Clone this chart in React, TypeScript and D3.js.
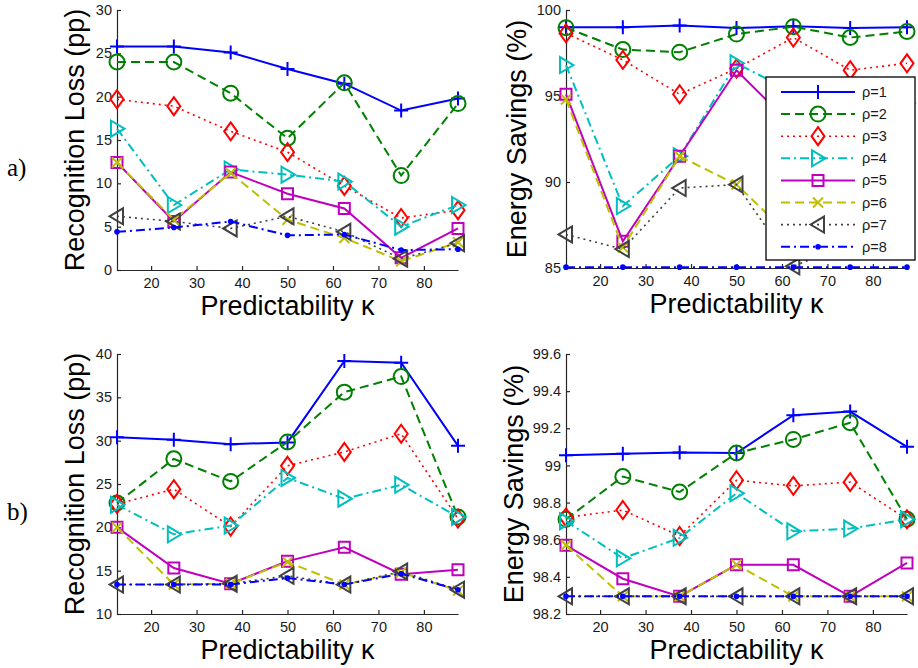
import { useRef, useEffect } from 'react'
import * as d3 from 'd3'

const kappa = [12.5, 25, 37.5, 50, 62.5, 75, 87.5]
const rhoLabels = ['ρ=1', 'ρ=2', 'ρ=3', 'ρ=4', 'ρ=5', 'ρ=6', 'ρ=7', 'ρ=8']
const xTicks = [20, 30, 40, 50, 60, 70, 80]

// a) recognition loss (pp), one row per rho
const lossA = [
  [25.8, 25.8, 25.1, 23.2, 21.5, 18.4, 19.8],
  [24.0, 24.0, 20.4, 15.2, 21.6, 10.9, 19.2],
  [19.7, 18.9, 16.0, 13.6, 9.7, 6.0, 6.9],
  [16.3, 7.5, 11.6, 11.0, 10.2, 5.0, 7.5],
  [12.4, 5.6, 11.3, 8.8, 7.1, 1.4, 4.8],
  [12.4, 5.8, 11.2, 5.8, 3.7, 1.0, 3.2],
  [6.2, 5.6, 4.8, 6.2, 4.4, 1.3, 3.1],
  [4.4, 4.9, 5.6, 4.0, 4.1, 2.3, 2.4],
]

// a) energy savings (%)
const energyA = [
  [99.0, 99.0, 99.1, 98.95, 99.05, 98.95, 99.0],
  [98.97, 97.7, 97.55, 98.6, 99.03, 98.4, 98.75],
  [98.65, 97.1, 95.1, 96.6, 98.4, 96.5, 96.9],
  [96.8, 88.6, 91.5, 96.9, 95.2, 95.0, 94.6],
  [95.1, 86.55, 91.5, 96.5, 93.2, 93.8, 94.2],
  [94.8, 86.2, 91.5, 89.85, 86.7, 86.3, 86.5],
  [86.95, 86.1, 89.65, 89.85, 85.1, 86.4, 86.8],
  [85.05, 85.05, 85.05, 85.05, 85.05, 85.05, 85.05],
]

// b) recognition loss (pp)
const lossB = [
  [30.4, 30.1, 29.6, 29.8, 39.2, 39.0, 29.4],
  [22.8, 27.9, 25.3, 29.85, 35.6, 37.4, 21.2],
  [22.7, 24.4, 20.1, 27.1, 28.7, 30.8, 21.0],
  [22.6, 19.2, 20.2, 25.7, 23.3, 24.9, 21.2],
  [20.0, 15.3, 13.5, 16.1, 17.7, 14.6, 15.1],
  [20.0, 13.4, 13.5, 16.0, 13.4, 14.8, 12.7],
  [13.4, 13.4, 13.5, 14.4, 13.4, 14.9, 12.8],
  [13.4, 13.4, 13.4, 14.15, 13.4, 14.65, 12.8],
]

// b) energy savings (%)
const energyB = [
  [99.055, 99.063, 99.07, 99.067, 99.27, 99.29, 99.1],
  [98.71, 98.94, 98.857, 99.067, 99.14, 99.23, 98.71],
  [98.72, 98.76, 98.62, 98.92, 98.89, 98.91, 98.71],
  [98.7, 98.5, 98.61, 98.85, 98.645, 98.66, 98.71],
  [98.57, 98.39, 98.295, 98.465, 98.465, 98.295, 98.475],
  [98.57, 98.295, 98.295, 98.465, 98.295, 98.295, 98.295],
  [98.295, 98.295, 98.295, 98.295, 98.295, 98.295, 98.295],
  [98.295, 98.295, 98.295, 98.295, 98.295, 98.295, 98.295],
]

const colors = ['#0000ff', '#008000', '#ff0000', '#00bfbf', '#bf00bf', '#bfbf00', '#404040', '#0000ff']
const dashes = ['none', '9,5', '2,4', '9,4,2,4', 'none', '9,5', '2,4', '9,4,2,4']
const markers = ['plus', 'circle', 'diamond', 'right', 'square', 'x', 'left', 'dot']

const sans = '"Liberation Sans", Arial, Helvetica, sans-serif'

function drawMarker(g: any, kind: string, color: string) {
  if (kind === 'circle') {
    g.append('circle').attr('r', 7.5).attr('fill', 'none').attr('stroke', color).attr('stroke-width', 2)
  } else if (kind === 'dot') {
    g.append('circle').attr('r', 2.8).attr('fill', color)
  } else {
    const paths: any = {
      plus: 'M-7,0H7M0,-7V7',
      diamond: 'M0,-9L6.5,0L0,9L-6.5,0Z',
      right: 'M7.5,0L-6,-8L-6,8Z',
      left: 'M-7.5,0L6,-8L6,8Z',
      square: 'M-5.5,-5.5H5.5V5.5H-5.5Z',
      x: 'M-5,-5L5,5M-5,5L5,-5',
    }
    g.append('path').attr('d', paths[kind]).attr('fill', 'none').attr('stroke', color).attr('stroke-width', 2)
  }
}

function drawPanel(svg: any, cfg: any) {
  const x = d3.scaleLinear().domain([12.5, 87.5]).range([cfg.left, cfg.right])
  const y = d3.scaleLinear().domain(cfg.domain).range([cfg.bottom, cfg.top])
  const g = svg.append('g')

  const yAxis = d3
    .axisLeft(y)
    .tickValues(cfg.ticks)
    .tickSizeInner(-4)
    .tickSizeOuter(0)
    .tickPadding(5)
    .tickFormat(cfg.fmt)
  const xAxis = d3.axisBottom(x).tickValues(xTicks).tickSizeInner(-4).tickSizeOuter(0).tickPadding(8).tickFormat(d3.format('d'))

  const ya = g.append('g').attr('transform', `translate(${cfg.left},0)`).call(yAxis)
  const xa = g.append('g').attr('transform', `translate(0,${cfg.bottom})`).call(xAxis)
  ;[ya, xa].forEach((a) => {
    a.selectAll('path,line').attr('stroke', '#262626').attr('stroke-width', 1.2)
    a.selectAll('text').attr('fill', '#1a1a1a').style('font-family', sans).style('font-size', '14.5px')
  })

  const line = d3
    .line<number>()
    .x((d, i) => x(kappa[i]))
    .y((d) => y(d))

  cfg.data.forEach((vals: number[], s: number) => {
    const sg = g.append('g')
    sg.append('path')
      .attr('d', line(vals))
      .attr('fill', 'none')
      .attr('stroke', colors[s])
      .attr('stroke-width', s === 2 || s === 6 ? 1.6 : 2)
      .attr('stroke-dasharray', dashes[s])
    vals.forEach((v, i) => {
      const mg = sg.append('g').attr('transform', `translate(${x(kappa[i])},${y(v)})`)
      drawMarker(mg, markers[s], colors[s])
    })
  })

  // y label
  g.append('text')
    .attr('transform', `translate(${cfg.labelX},${(cfg.top + cfg.bottom) / 2}) rotate(-90)`)
    .attr('text-anchor', 'middle')
    .style('font-family', sans)
    .style('font-size', '27px')
    .text(cfg.yLabel)

  // x label
  g.append('text')
    .attr('x', (cfg.left + cfg.right) / 2)
    .attr('y', cfg.bottom + 45)
    .attr('text-anchor', 'middle')
    .style('font-family', sans)
    .style('font-size', '27px')
    .text('Predictability κ')
}

const App = () => {
  const svgRef = useRef<SVGSVGElement>(null)

  useEffect(() => {
    const svg = d3.select(svgRef.current)
    svg.selectAll('*').remove()
    svg.append('rect').attr('width', 918).attr('height', 668).attr('fill', '#fff')

    const fmt1 = (d: any) => d3.format('d')(d)
    const fmtB = (d: any) => (Math.abs(d - 99) < 1e-9 ? '99' : d3.format('.1f')(d))

    drawPanel(svg, {
      left: 117, right: 458, top: 10, bottom: 270, domain: [0, 30], ticks: [0, 5, 10, 15, 20, 25, 30],
      fmt: fmt1, data: lossA, yLabel: 'Recognition Loss (pp)', labelX: 84,
    })
    drawPanel(svg, {
      left: 566, right: 907, top: 10, bottom: 268, domain: [85, 100], ticks: [85, 90, 95, 100],
      fmt: fmt1, data: energyA, yLabel: 'Energy Savings (%)', labelX: 526,
    })
    drawPanel(svg, {
      left: 117, right: 458, top: 354, bottom: 614, domain: [10, 40], ticks: [10, 15, 20, 25, 30, 35, 40],
      fmt: fmt1, data: lossB, yLabel: 'Recognition Loss (pp)', labelX: 84,
    })
    drawPanel(svg, {
      left: 566, right: 907, top: 354, bottom: 614, domain: [98.2, 99.6],
      ticks: [98.2, 98.4, 98.6, 98.8, 99, 99.2, 99.4, 99.6],
      fmt: fmtB, data: energyB, yLabel: 'Energy Savings (%)', labelX: 523,
    })

    // legend on top-right panel
    const lg = svg.append('g')
    lg.append('rect')
      .attr('x', 766)
      .attr('y', 77)
      .attr('width', 149)
      .attr('height', 183)
      .attr('fill', '#fff')
      .attr('stroke', '#000')
      .attr('stroke-width', 1.3)
    rhoLabels.forEach((lab, s) => {
      const yy = 92 + s * 22.1
      lg.append('line')
        .attr('x1', 781)
        .attr('x2', 855)
        .attr('y1', yy)
        .attr('y2', yy)
        .attr('stroke', colors[s])
        .attr('stroke-width', s === 2 || s === 6 ? 1.6 : 2)
        .attr('stroke-dasharray', dashes[s])
      drawMarker(lg.append('g').attr('transform', `translate(818,${yy})`), markers[s], colors[s])
      lg.append('text')
        .attr('x', 862)
        .attr('y', yy + 5)
        .style('font-family', sans)
        .style('font-size', '14.5px')
        .attr('fill', '#1a1a1a')
        .text(lab)
    })

    // panel tags
    ;[
      ['a)', 176],
      ['b)', 520],
    ].forEach(([t, yy]) => {
      svg.append('text')
        .attr('x', 7)
        .attr('y', yy)
        .style('font-family', '"Liberation Serif", "DejaVu Serif", serif')
        .style('font-size', '25px')
        .text(t)
    })
  }, [])

  return <svg ref={svgRef} width={918} height={668} style={{ position: 'absolute', left: 0, top: 0 }}></svg>
}

export default App
